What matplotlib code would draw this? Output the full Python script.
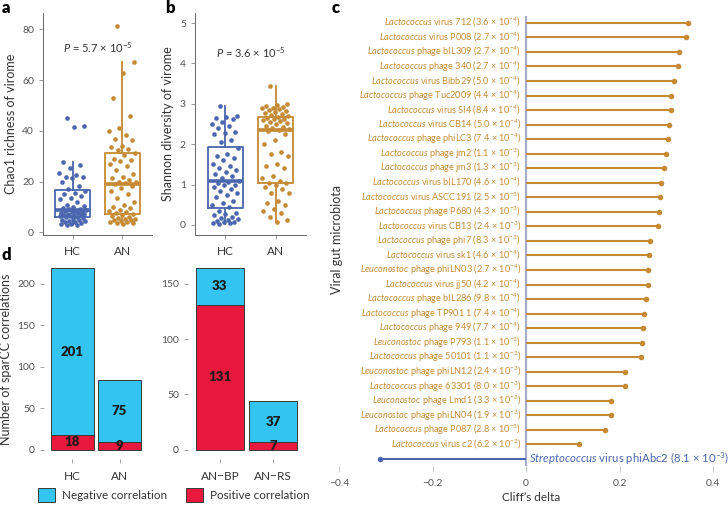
import numpy as np
import matplotlib
matplotlib.use("Agg")
import matplotlib.pyplot as plt
from matplotlib.patches import Patch

plt.rcParams['font.family'] = ['Lato', 'DejaVu Sans']
plt.rcParams['mathtext.fontset'] = 'custom'
plt.rcParams['mathtext.rm'] = 'Lato'
plt.rcParams['mathtext.it'] = 'Lato:italic'
plt.rcParams['mathtext.bf'] = 'Lato:bold'

BLUE = '#4a66ae'
ORANGE = '#c58a33'
NEG = '#33c4f2'
POS = '#e8193c'
TXT = '#333333'
TICK = '#555555'

# ---- data: alpha diversity (a, b)
groups = ['HC', 'AN']
chao1_hc = [45, 42, 41.5, 27.8, 26.5, 25.5, 23.5, 22.5, 22, 22, 21.5, 20, 18.5, 17,
            16.5, 15.5, 15, 14.5, 13.5, 13, 12, 11, 10.5, 10, 9.5, 9.3, 9.1, 9,
            8.6, 8.4, 8.2, 8, 7.8, 7.6, 7.4, 7.2, 7, 6.9, 6.7, 6.5, 6.4, 6.2,
            5.9, 5.6, 5.3, 5, 4.8, 4.6, 4.4, 4.2, 4, 3.8, 3.5, 3.3, 3.1, 2.9]
chao1_an = [81.5, 67, 63, 53, 46, 41, 40, 38.5, 37, 36.5, 34, 33.5, 33, 32.5,
            31.5, 30.5, 29, 28.5, 28, 27, 26, 24.5, 23, 22, 21.5, 20.5, 20, 19.8, 19.5,
            19, 18.5, 17.5, 16.5, 15, 13.5, 12, 11, 10, 9.5, 9, 8.5, 8, 7.6, 7.2,
            6.8, 6.5, 6, 5.8, 5.5, 5.2, 5, 4.8, 4.5, 4.3, 4, 3.8, 3.6, 3.4]
shannon_hc = [2.95, 2.7, 2.68, 2.65, 2.62, 2.55, 2.5, 2.45, 2.4, 2.3, 2.28, 2.25, 2.1, 2.05,
              1.9, 1.75, 1.7, 1.65, 1.6, 1.5, 1.45, 1.4, 1.35, 1.3, 1.25, 1.2, 1.15, 1.1,
              1.06, 1.05, 1.0, 0.98, 0.95, 0.9, 0.85, 0.8, 0.75, 0.7, 0.6, 0.55, 0.5, 0.45,
              0.35, 0.3, 0.28, 0.25, 0.2, 0.18, 0.15, 0.12, 0.1, 0.08, 0.06, 0.05, 0.04, 0.03]
shannon_an = [3.45, 3.0, 2.98, 2.95, 2.92, 2.9, 2.9, 2.88, 2.85, 2.82, 2.8, 2.78, 2.75, 2.72,
              2.69, 2.67, 2.65, 2.63, 2.62, 2.6, 2.58, 2.55, 2.52, 2.5, 2.45, 2.42, 2.4, 2.38, 2.36,
              2.32, 2.25, 2.1, 2.0, 1.8, 1.75, 1.7, 1.5, 1.45, 1.4, 1.2, 1.15, 1.1, 1.05, 1.03,
              0.98, 0.95, 0.9, 0.8, 0.78, 0.6, 0.55, 0.5, 0.4, 0.35, 0.3, 0.2, 0.12, 0.06]
p_chao1 = r'$\mathit{P}$ = 5.7 × 10$^{-5}$'
p_shannon = r'$\mathit{P}$ = 3.6 × 10$^{-5}$'

# ---- data: sparCC correlations (d)
d_groups_left = ['HC', 'AN']
d_neg_left = [201, 75]
d_pos_left = [18, 9]
d_groups_right = ['AN\u2212BP', 'AN\u2212RS']
d_neg_right = [33, 37]
d_pos_right = [131, 7]

# ---- data: Cliff's delta (c)
genus = ['Lactococcus', 'Lactococcus', 'Lactococcus', 'Lactococcus', 'Lactococcus',
         'Lactococcus', 'Lactococcus', 'Lactococcus', 'Lactococcus', 'Lactococcus',
         'Lactococcus', 'Lactococcus', 'Lactococcus', 'Lactococcus', 'Lactococcus',
         'Lactococcus', 'Lactococcus', 'Leuconostoc', 'Lactococcus', 'Lactococcus',
         'Lactococcus', 'Lactococcus', 'Leuconostoc', 'Lactococcus', 'Leuconostoc',
         'Lactococcus', 'Leuconostoc', 'Leuconostoc', 'Lactococcus', 'Lactococcus',
         'Streptococcus']
virus = ['virus 712', 'virus P008', 'phage bIL309', 'phage 340', 'virus Bibb29',
         'phage Tuc2009', 'virus SI4', 'virus CB14', 'phage phiLC3', 'phage jm2',
         'phage jm3', 'virus bIL170', 'virus ASCC191', 'phage P680', 'virus CB13',
         'phage phi7', 'virus sk1', 'phage phiLN03', 'virus jj50', 'phage bIL286',
         'phage TP901 1', 'phage 949', 'phage P793', 'phage 50101', 'phage phiLN12',
         'phage 63301', 'phage Lmd1', 'phage phiLN04', 'phage P087', 'virus c2',
         'virus phiAbc2']
q_mant = ['3.6', '2.7', '2.7', '2.7', '5.0', '4.4', '8.4', '5.0', '7.4', '1.1',
          '1.3', '4.6', '2.5', '4.3', '2.4', '8.3', '4.6', '2.7', '4.2', '9.8',
          '7.4', '7.7', '1.1', '1.1', '2.4', '8.0', '3.3', '1.9', '2.8', '6.2', '8.1']
q_exp = [-4, -4, -4, -4, -4, -4, -4, -4, -4, -3,
         -3, -4, -3, -3, -3, -3, -4, -4, -4, -4,
         -4, -4, -3, -3, -3, -3, -3, -3, -3, -2, -3]
cliffs_delta = [0.346, 0.342, 0.327, 0.325, 0.316, 0.310, 0.310, 0.305, 0.304, 0.299,
                0.296, 0.289, 0.287, 0.284, 0.282, 0.265, 0.264, 0.261, 0.261, 0.257,
                0.252, 0.250, 0.249, 0.247, 0.212, 0.212, 0.182, 0.182, 0.170, 0.113,
                -0.312]

W, H = 728, 507
fig = plt.figure(figsize=(W / 100, H / 100), dpi=100)


def px_axes(left, top, right, bottom):
    return fig.add_axes([left / W, 1 - bottom / H, (right - left) / W, (bottom - top) / H])


def style_box_axes(ax):
    for s in ['top', 'right']:
        ax.spines[s].set_visible(False)
    for s in ['left', 'bottom']:
        ax.spines[s].set_color('#666666')
        ax.spines[s].set_linewidth(0.7)
    ax.tick_params(length=3, width=0.6, color='#888888', labelsize=7.5, labelcolor=TICK)
    ax.tick_params(axis='x', labelsize=8.5, labelcolor=TXT, pad=5)


def box_panel(ax, hc, an, ylabel, ptxt, ymax, yticks, ptext_y):
    data = [hc, an]
    cols = [BLUE, ORANGE]
    bp = ax.boxplot(data, positions=[1, 2], widths=0.7, showfliers=False, showcaps=False,
                    whis=1.5)
    for i, c in enumerate(cols):
        bp['boxes'][i].set(color=c, linewidth=1.3)
        bp['medians'][i].set(color=c, linewidth=2.6)
        for w in bp['whiskers'][2 * i:2 * i + 2]:
            w.set(color=c, linewidth=1.3)
    for i, (vals, c) in enumerate(zip(data, cols)):
        n = len(vals)
        offs = (((np.arange(n) * 0.618034) + 0.3) % 1 - 0.5) * 0.55
        ax.scatter(i + 1 + offs, vals, s=11, color=c, linewidths=0, zorder=3)
    ax.set_xlim(0.4, 2.6)
    ax.set_ylim(ymax[0], ymax[1])
    ax.set_yticks(yticks)
    ax.set_xticks([1, 2])
    ax.set_xticklabels(groups)
    ax.set_ylabel(ylabel, fontsize=9, color=TXT, labelpad=4)
    ax.text(1.5, ptext_y, ptxt, ha='center', va='center', fontsize=8, color=TXT)
    style_box_axes(ax)


ax_a = px_axes(43, 13, 152, 235)
box_panel(ax_a, chao1_hc, chao1_an, 'Chao1 richness of virome', p_chao1,
          (-1, 86.5), [0, 20, 40, 60, 80], 73)

ax_b = px_axes(195, 13, 306, 235)
box_panel(ax_b, shannon_hc, shannon_an, 'Shannon diversity of virome', p_shannon,
          (-0.25, 5.25), [0, 1, 2, 3, 4, 5], 4.26)


# ---- panel d
def bar_panel(ax, cats, neg, pos, ymax, yticks):
    x = np.arange(len(cats))
    ax.bar(x, pos, width=0.9, color=POS, edgecolor='#3a3a3a', linewidth=0.7)
    ax.bar(x, neg, bottom=pos, width=0.9, color=NEG, edgecolor='#3a3a3a', linewidth=0.7)
    for xi, p, n in zip(x, pos, neg):
        ax.text(xi, p / 2, str(p), ha='center', va='center', fontsize=9.5,
                fontweight='heavy', color='#1a1a1a')
        ax.text(xi, p + n / 2, str(n), ha='center', va='center', fontsize=9.5,
                fontweight='heavy', color='#1a1a1a')
    ax.set_xlim(-0.6, len(cats) - 0.4)
    ax.set_ylim(ymax[0], ymax[1])
    ax.set_yticks(yticks)
    ax.set_xticks(x)
    ax.set_xticklabels(cats)
    for s in ax.spines.values():
        s.set_visible(False)
    ax.tick_params(length=3, width=0.6, color='#999999', labelsize=7.5, labelcolor=TICK)
    ax.tick_params(axis='x', labelsize=8.5, labelcolor=TXT, pad=6)


ax_d1 = px_axes(44, 259, 148, 459)
bar_panel(ax_d1, d_groups_left, d_neg_left, d_pos_left, (-11, 230), [0, 50, 100, 150, 200])
ax_d1.set_ylabel('Number of sparCC correlations', fontsize=9, color=TXT, labelpad=4)

ax_d2 = px_axes(188, 259, 305, 459)
bar_panel(ax_d2, d_groups_right, d_neg_right, d_pos_right, (-8.2, 172.2), [0, 50, 100, 150])

handles = [Patch(facecolor=NEG, edgecolor='#3a3a3a', linewidth=0.7),
           Patch(facecolor=POS, edgecolor='#3a3a3a', linewidth=0.7)]
fig.legend(handles, ['Negative correlation', 'Positive correlation'], loc='center',
           bbox_to_anchor=(174 / W, 1 - 495 / H), ncol=2, frameon=False, fontsize=8.4,
           handlelength=1.45, handleheight=1.55, handletextpad=0.6, columnspacing=1.6,
           labelcolor=TXT)

# ---- panel c
ax_c = px_axes(335, 15.6, 728, 466.3)
n = len(cliffs_delta)
ypos = np.arange(n)[::-1]
ax_c.axvline(0, color='#a7aec6', linewidth=1.6, zorder=1)
for yi, d, g, v, m, e in zip(ypos, cliffs_delta, genus, virus, q_mant, q_exp):
    c = ORANGE if d > 0 else BLUE
    ax_c.hlines(yi, 0, d, color=c, linewidth=1.5, zorder=2)
    ax_c.scatter([d], [yi], s=16, color=c, linewidths=0, zorder=3)
    label = r'$\mathit{' + g + '}$ ' + v + ' (' + m + r' × 10$^{' + str(e) + '}$)'
    if d > 0:
        ax_c.text(-0.011, yi, label, ha='right', va='center', fontsize=6.6, color=ORANGE)
    else:
        ax_c.text(0.007, yi, label, ha='left', va='center', fontsize=8.2, color=BLUE)
x0 = (335 - 526) / 467.5
x1 = (728 - 526) / 467.5
ax_c.set_xlim(x0, x1)
ax_c.set_ylim(-0.5, n - 0.5)
ax_c.set_yticks([])
ax_c.set_xticks([-0.4, -0.2, 0, 0.2, 0.4])
ax_c.set_xticklabels(['\u22120.4', '\u22120.2', '0', '0.2', '0.4'])
for s in ax_c.spines.values():
    s.set_visible(False)
ax_c.tick_params(axis='x', length=4, width=0.6, color='#bbbbbb', labelsize=7.5,
                 labelcolor=TICK, pad=5)
ax_c.set_xlabel('Cliff\u2019s delta', fontsize=8.5, color=TXT, labelpad=3)
fig.text(337 / W, 1 - 240 / H, 'Viral gut microbiota', rotation=90, ha='center',
         va='center', fontsize=9, color=TXT)

# ---- panel letters
for lab, x, y in [('a', 2, 8), ('b', 165, 8), ('c', 332, 8), ('d', 2, 255)]:
    fig.text(x / W, 1 - y / H, lab, fontsize=12, fontweight='heavy', ha='left',
             va='center', color='black')

fig.savefig('out.png', dpi=100)
